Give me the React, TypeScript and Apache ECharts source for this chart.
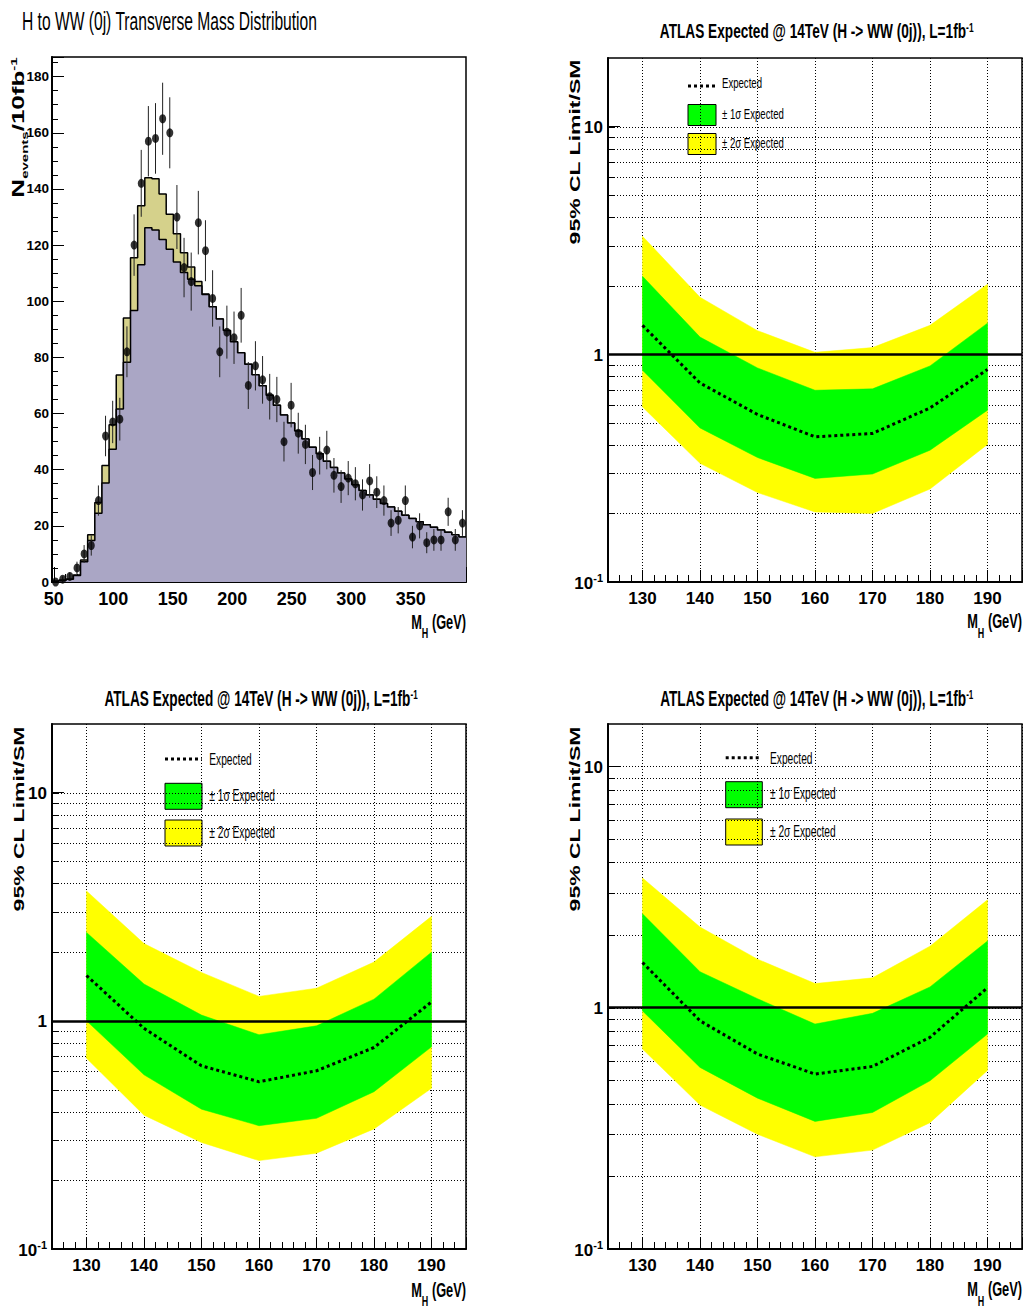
import React, { useEffect, useRef } from "react";
import * as echarts from "echarts";

// ---------------- Histogram panel (top-left) ----------------
const binCenters = [
  51.5, 57.5, 63.5, 69.5, 75.5, 81.5, 87.5, 93.5, 99.5, 105.5, 111.5, 117.5, 123.5, 129.5, 135.5,
  141.5, 147.5, 153.5, 159.5, 165.5, 171.5, 177.5, 183.5, 189.5, 195.5, 201.5, 207.5, 213.5, 219.5,
  225.5, 231.5, 237.5, 243.5, 249.5, 255.5, 261.5, 267.5, 273.5, 279.5, 285.5, 291.5, 297.5, 303.5,
  309.5, 315.5, 321.5, 327.5, 333.5, 339.5, 345.5, 351.5, 357.5, 363.5, 369.5, 375.5, 381.5, 387.5, 393.5,
];
const binHalfWidth = 3;
const backgroundCounts = [
  0.3, 0.6, 1.0, 2.3, 7.2, 14.8, 24.5, 35.3, 47.3, 61.6, 78.3, 96.7, 113, 126.2, 125.4, 122, 118.5,
  114, 110.2, 107.8, 105.5, 102.4, 98, 93.7, 89.6, 85.6, 81.7, 77.6, 73.8, 69.9, 66.5, 63, 59.5, 56.6,
  53.8, 50.9, 48, 45.7, 43, 40.8, 38.8, 36.7, 34.6, 32.6, 31, 29.5, 28, 26.7, 25.2, 23.8, 22.6, 21.5,
  20.4, 19.5, 18.5, 17.7, 16.8, 16,
];
const signalCounts = [
  0, 0, 0, 0.2, 0.6, 2.0, 3.8, 6.2, 8.7, 12.1, 15.7, 18.8, 21, 17.8, 18.2, 16.2, 12.5, 10, 7.1, 4.4,
  1.5, 0.2, 0, 0, 0, 0, 0, 0, 0, 0, 0, 0, 0, 0, 0, 0, 0, 0, 0, 0, 0, 0, 0, 0, 0, 0, 0, 0, 0, 0, 0, 0,
  0, 0, 0, 0, 0, 0,
];
const dataCounts = [
  0, 1, 2, 5, 10, 13, 29, 52, 57, 58, 82, 120, 142, 157, 158, 165, 160, 130, 112, 107, 128, 118, 101,
  82, 89, 87, 95, 70, 77, 72, 66, 65, 50, 63, 53, 49, 39, 45, 47, 38, 34, 37, 35, 31, 36, 32, 29, 21,
  22, 29, 16, 20, 14, 15, 15, 25, 15, 21,
];
const histXRange = [48.5, 396.5];
const histYMax = 187;
const histYInterval = 20;

// ---------------- Limit panels ----------------
const massPoints = [130, 140, 150, 160, 170, 180, 190];
const limitXRange = [124, 196];

// top-right
const expectedA = [1.34, 0.748, 0.544, 0.434, 0.449, 0.581, 0.857];
const plus1A = [2.2, 1.19, 0.871, 0.695, 0.705, 0.889, 1.37];
const minus1A = [0.851, 0.475, 0.352, 0.285, 0.298, 0.379, 0.568];
const plus2A = [3.3, 1.78, 1.27, 1.02, 1.07, 1.34, 2.03];
const minus2A = [0.587, 0.332, 0.247, 0.203, 0.2, 0.256, 0.402];
// bottom-left
const expectedB = [1.58, 0.927, 0.635, 0.541, 0.604, 0.764, 1.21];
const plus1B = [2.44, 1.45, 1.06, 0.869, 0.951, 1.245, 2.0];
const minus1B = [1.0, 0.58, 0.41, 0.347, 0.374, 0.489, 0.769];
const plus2B = [3.71, 2.18, 1.63, 1.28, 1.39, 1.81, 2.87];
const minus2B = [0.685, 0.386, 0.293, 0.244, 0.263, 0.336, 0.506];
// bottom-right
const expectedC = [1.54, 0.883, 0.643, 0.531, 0.571, 0.754, 1.21];
const plus1C = [2.45, 1.41, 1.09, 0.856, 0.948, 1.22, 1.89];
const minus1C = [0.97, 0.566, 0.422, 0.338, 0.368, 0.498, 0.778];
const plus2C = [3.45, 2.16, 1.59, 1.26, 1.33, 1.8, 2.8];
const minus2C = [0.674, 0.395, 0.299, 0.241, 0.257, 0.334, 0.55];

const logGridValues = [0.2, 0.3, 0.4, 0.5, 0.6, 0.7, 0.8, 0.9, 1, 2, 3, 4, 5, 6, 7, 8, 9, 10];
const unityLevel = 1;

const limitTitle = "ATLAS Expected @ 14TeV (H -> WW (0j)), L=1fb";
const legendLabels = ["Expected", "± 1σ Expected", "± 2σ Expected"];

// ---------------- styles ----------------
const FONT = '"Liberation Sans", Arial, Helvetica, sans-serif';
const FONT_TICK = '"Liberation Sans Narrow", "Liberation Sans", Arial, sans-serif';
const SIGNAL_COLOR = "#d5d18b";
const BG_COLOR = "#aaa6c5";
const GREEN = "#00ff00";
const YELLOW = "#ffff00";

const limitPanels = [
  {
    yMax: 20, exp: expectedA, p1: plus1A, m1: minus1A, p2: plus2A, m2: minus2A,
    grid: { left: 608, top: 58, width: 414, height: 524 },
    title: { x: 816.7, y: 20.5, size: 21, scale: 0.65 },
    yName: { x: 575.5, y: 152 },
    xName: { x: 1022, y: 611.5 },
    legend: { lx1: 688, lx2: 715, ly: 86, tx: 722, ty: [83.5, 114.5, 143.5], bx: 688, bw: 28, bh: 21, by: [104.5, 133.5], fs: 15, sc: 0.64 },
  },
  {
    yMax: 20, exp: expectedB, p1: plus1B, m1: minus1B, p2: plus2B, m2: minus2B,
    grid: { left: 52, top: 724, width: 414, height: 525 },
    title: { x: 261, y: 687.5, size: 22, scale: 0.62 },
    yName: { x: 18.7, y: 819 },
    xName: { x: 466, y: 1280 },
    legend: { lx1: 165, lx2: 201.7, ly: 759, tx: 209.3, ty: [759, 795, 832], bx: 165, bw: 37, bh: 26, by: [783.3, 820], fs: 17, sc: 0.6 },
  },
  {
    yMax: 15, exp: expectedC, p1: plus1C, m1: minus1C, p2: plus2C, m2: minus2C,
    grid: { left: 608, top: 724, width: 414, height: 525 },
    title: { x: 816.7, y: 687.5, size: 22, scale: 0.62 },
    yName: { x: 575.5, y: 819 },
    xName: { x: 1022, y: 1279.5 },
    legend: { lx1: 725.7, lx2: 760.7, ly: 757.7, tx: 770, ty: [757.7, 793.3, 830.7], bx: 725.7, bw: 36.6, bh: 26, by: [781.7, 819], fs: 17, sc: 0.6 },
  },
];

function stepPoints(vals: number[]) {
  const pts = binCenters.map((c, i) => [c - binHalfWidth, vals[i]]);
  const last = binCenters.length - 1;
  pts.push([binCenters[last] + binHalfWidth, vals[last]]);
  return pts;
}

const axisLineStyle = { show: true, onZero: false, lineStyle: { color: "#000", width: 2 } };
const tickLabel = (size: number) => ({ fontFamily: FONT_TICK, fontWeight: "bold", fontSize: size, color: "#000" });

function buildOption() {
  const totalCounts = backgroundCounts.map((b, i) => +(b + signalCounts[i]).toFixed(2));
  const grids: any[] = [
    { left: 52, top: 57, width: 414, height: 525, show: true, borderColor: "#000", borderWidth: 1.5, containLabel: false, outerBoundsMode: "none" },
  ];
  const xAxes: any[] = [
    {
      gridIndex: 0, type: "value", min: histXRange[0], max: histXRange[1],
      axisLine: axisLineStyle,
      axisTick: { show: true, inside: true, length: 15, lineStyle: { color: "#000", width: 1 } },
      minorTick: { show: true, splitNumber: 5, length: 8, lineStyle: { color: "#000", width: 1 } },
      splitLine: { show: false }, minorSplitLine: { show: false },
      axisLabel: { ...tickLabel(18), margin: 8, showMinLabel: false, showMaxLabel: false },
    },
  ];
  const yAxes: any[] = [
    {
      gridIndex: 0, type: "value", min: 0, max: histYMax, interval: histYInterval,
      axisLine: axisLineStyle,
      axisTick: { show: true, inside: true, length: 12, lineStyle: { color: "#000", width: 1 } },
      minorTick: { show: true, splitNumber: 4, length: 6, lineStyle: { color: "#000", width: 1 } },
      splitLine: { show: false },
      axisLabel: { ...tickLabel(13.5), margin: 3, showMaxLabel: false },
    },
  ];
  const series: any[] = [
    {
      type: "line", name: "Signal + Background", xAxisIndex: 0, yAxisIndex: 0, data: stepPoints(totalCounts),
      step: "end", symbol: "none", silent: true, z: 2,
      lineStyle: { color: "#000", width: 1.5 }, areaStyle: { color: SIGNAL_COLOR, opacity: 1 },
    },
    {
      type: "line", name: "Background", xAxisIndex: 0, yAxisIndex: 0, data: stepPoints(backgroundCounts),
      step: "end", symbol: "none", silent: true, z: 3,
      lineStyle: { color: "#000", width: 1.5 }, areaStyle: { color: BG_COLOR, opacity: 1 },
    },
    {
      type: "custom", name: "Data errors", xAxisIndex: 0, yAxisIndex: 0, silent: true, z: 4,
      data: binCenters.map((c, i) => [c, dataCounts[i]]),
      encode: { x: 0, y: 1 },
      renderItem: (params: any, api: any) => {
        const x = api.value(0);
        const n = api.value(1);
        if (!(n > 0)) return null;
        const e = Math.sqrt(n);
        const a = api.coord([x, n - e]);
        const b = api.coord([x, n + e]);
        return { type: "line", shape: { x1: a[0], y1: a[1], x2: b[0], y2: b[1] }, style: { stroke: "#222", lineWidth: 1 } };
      },
    },
    {
      type: "scatter", name: "Data", xAxisIndex: 0, yAxisIndex: 0, silent: true, z: 5, clip: false,
      data: binCenters.map((c, i) => [c, dataCounts[i]]),
      symbol: "circle", symbolSize: [7, 9], itemStyle: { color: "#000" },
    },
  ];

  const graphics: any[] = [];
  const text = (x: number, y: number, t: string, o: any = {}) => ({
    type: "text", x, y, silent: true,
    scaleX: o.scaleX ?? 1, scaleY: o.scaleY ?? 1, rotation: o.rotation ?? 0,
    style: {
      text: t, fill: "#000", fontFamily: FONT, fontSize: o.size ?? 16, fontWeight: o.weight ?? "normal",
      align: o.align ?? "left", verticalAlign: o.vAlign ?? "middle", rich: o.rich,
    },
  });

  // top-left title and axis names
  graphics.push(text(22, 21, "H to WW (0j) Transverse Mass Distribution", { size: 25, scaleX: 0.625 }));
  graphics.push(
    text(18.5, 127.5, "{n|N}{sub|events}{n|/10fb}{sup|-1}", {
      rotation: Math.PI / 2, scaleY: 0.64, align: "center", vAlign: "middle",
      rich: {
        n: { fontFamily: FONT, fontWeight: "bold", fontSize: 26, lineHeight: 28, verticalAlign: "top" },
        sub: { fontFamily: FONT, fontWeight: "bold", fontSize: 15, lineHeight: 15, padding: [17, 0, 0, 0], verticalAlign: "top" },
        sup: { fontFamily: FONT, fontWeight: "bold", fontSize: 15, lineHeight: 15, verticalAlign: "top" },
      },
    })
  );
  const mhRich = {
    m: { fontFamily: FONT, fontWeight: "bold", fontSize: 20, lineHeight: 22, verticalAlign: "top" },
    h: { fontFamily: FONT, fontWeight: "bold", fontSize: 14, lineHeight: 14, padding: [14, 0, 0, 0], verticalAlign: "top" },
  };
  graphics.push(text(466, 612, "{m|M}{h|H}{m| (GeV)}", { align: "right", vAlign: "top", scaleX: 0.64, rich: mhRich }));

  limitPanels.forEach((p, k) => {
    const gi = k + 1;
    grids.push({ ...p.grid, show: true, borderColor: "#000", borderWidth: 1.5, containLabel: false, outerBoundsMode: "none" });
    xAxes.push({
      gridIndex: gi, type: "value", min: limitXRange[0], max: limitXRange[1],
      axisLine: axisLineStyle,
      axisTick: { show: true, inside: true, length: 12, lineStyle: { color: "#000", width: 1 } },
      minorTick: { show: true, splitNumber: 5, length: 7, lineStyle: { color: "#000", width: 1 } },
      splitLine: { show: true, lineStyle: { color: "#000", width: 1, type: [1, 2] } },
      minorSplitLine: { show: false },
      axisLabel: { ...tickLabel(17), margin: 8, showMinLabel: false, showMaxLabel: false },
    });
    yAxes.push({
      gridIndex: gi, type: "log", logBase: 10, min: 0.1, max: p.yMax,
      axisLine: axisLineStyle,
      axisTick: { show: true, inside: true, length: 12, lineStyle: { color: "#000", width: 1 } },
      splitLine: { show: false },
      axisLabel: {
        ...tickLabel(17), margin: 5, showMaxLabel: false,
        formatter: (v: number) => (v < 0.5 ? "{b|10}{s|-1}" : "{b|" + Math.round(v) + "}"),
        rich: {
          b: { fontFamily: FONT_TICK, fontWeight: "bold", fontSize: 17, color: "#000", lineHeight: 19, verticalAlign: "bottom" },
          s: { fontFamily: FONT_TICK, fontWeight: "bold", fontSize: 11, color: "#000", lineHeight: 11, verticalAlign: "top" },
        },
      },
    });

    // horizontal dotted grid + minor ticks
    series.push({
      type: "custom", name: "grid" + gi, xAxisIndex: gi, yAxisIndex: gi, silent: true, z: 1,
      data: logGridValues.map((v) => [massPoints[0], v]),
      encode: { x: 0, y: 1 },
      renderItem: (params: any, api: any) => {
        const y = Math.round(api.coord([api.value(0), api.value(1)])[1]) + 0.5;
        const cs = params.coordSys;
        return {
          type: "group",
          children: [
            { type: "line", shape: { x1: cs.x, y1: y, x2: cs.x + cs.width, y2: y }, style: { stroke: "#000", lineWidth: 1, lineDash: [1, 2] } },
            { type: "line", shape: { x1: cs.x, y1: y, x2: cs.x + 6, y2: y }, style: { stroke: "#000", lineWidth: 1 } },
          ],
        };
      },
    });
    const band = (lower: number[], upper: number[], color: string, z: number, name: string) => ({
      type: "custom", name, xAxisIndex: gi, yAxisIndex: gi, silent: true, z,
      data: massPoints.map((m, i) => [m, lower[i], upper[i]]),
      encode: { x: 0, y: [1, 2] },
      renderItem: (params: any, api: any) => {
        if (params.dataIndex !== 0) return null;
        const pts: number[][] = [];
        massPoints.forEach((m, i) => pts.push(api.coord([m, upper[i]])));
        for (let i = massPoints.length - 1; i >= 0; i--) pts.push(api.coord([massPoints[i], lower[i]]));
        return { type: "polygon", shape: { points: pts }, style: { fill: color, stroke: color, lineWidth: 0.5 } };
      },
    });
    series.push(band(p.m2, p.p2, YELLOW, 2, legendLabels[2]));
    series.push(band(p.m1, p.p1, GREEN, 3, legendLabels[1]));
    series.push({
      type: "line", name: legendLabels[0], xAxisIndex: gi, yAxisIndex: gi, silent: true, z: 5,
      data: massPoints.map((m, i) => [m, p.exp[i]]),
      symbol: "none", lineStyle: { color: "#000", width: 3, type: [3, 3] },
      markLine: {
        silent: true, symbol: ["none", "none"], label: { show: false },
        lineStyle: { color: "#000", width: 2.5, type: "solid" },
        data: [{ yAxis: unityLevel }],
      },
    });

    // texts
    graphics.push(
      text(p.title.x, p.title.y, "{m|" + limitTitle + "}{s|-1}", {
        align: "center", vAlign: "top", scaleX: p.title.scale,
        rich: {
          m: { fontFamily: FONT, fontWeight: "bold", fontSize: p.title.size, lineHeight: 24, verticalAlign: "top" },
          s: { fontFamily: FONT, fontWeight: "bold", fontSize: 13, lineHeight: 13, verticalAlign: "top" },
        },
      })
    );
    graphics.push(
      text(p.yName.x, p.yName.y, "95% CL Limit/SM", {
        rotation: Math.PI / 2, scaleY: 0.64, align: "center", vAlign: "middle", size: 23, weight: "bold",
      })
    );
    graphics.push(text(p.xName.x, p.xName.y, "{m|M}{h|H}{m| (GeV)}", { align: "right", vAlign: "top", scaleX: 0.64, rich: mhRich }));

    // legend
    const L = p.legend;
    graphics.push({
      type: "line", silent: true,
      shape: { x1: L.lx1, y1: L.ly, x2: L.lx2, y2: L.ly },
      style: { stroke: "#000", lineWidth: 3, lineDash: [3, 3] },
    });
    [GREEN, YELLOW].forEach((c, j) => {
      graphics.push({
        type: "rect", silent: true,
        shape: { x: L.bx, y: L.by[j], width: L.bw, height: L.bh },
        style: { fill: c, stroke: "#000", lineWidth: 1 },
      });
    });
    legendLabels.forEach((lab, j) => {
      graphics.push(text(L.tx, L.ty[j], lab, { size: L.fs, scaleX: L.sc }));
    });
  });

  return {
    animation: false,
    backgroundColor: "#fff",
    grid: grids,
    xAxis: xAxes,
    yAxis: yAxes,
    series,
    graphic: { elements: graphics },
  };
}

export default function App() {
  const ref = useRef<HTMLDivElement>(null);
  useEffect(() => {
    const chart = echarts.init(ref.current!, undefined, { renderer: "svg" });
    chart.setOption(buildOption() as any);
    return () => chart.dispose();
  }, []);
  return (
    <div
      ref={ref}
      style={{ position: "absolute", left: 0, top: 0, width: 1027, height: 1309, background: "#fff" }}
    />
  );
}
